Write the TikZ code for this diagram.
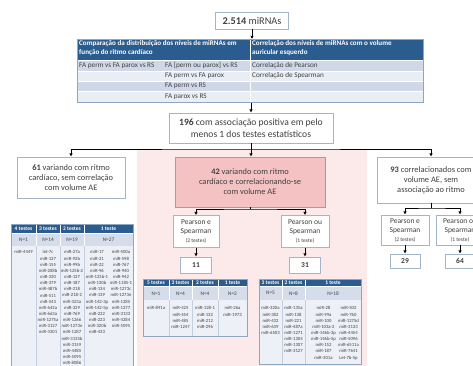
\documentclass[tikz,border=0pt]{standalone}
\usepackage{fontspec}
\setmainfont{Carlito}
\usetikzlibrary{positioning, calc, arrows.meta, shadows}

\begin{document}
\begin{tikzpicture}[
  x=1pt, y=-1pt,
  font=\fontsize{8.4}{10}\selectfont,
  >={Latex[length=3.2pt,width=3.4pt]},
  box/.style={draw=cBoxLine, fill=white, line width=0.7pt, text=cText,
    align=center, inner sep=1pt,
    drop shadow={opacity=0.18, shadow xshift=0.7pt, shadow yshift=-0.7pt}},
  pinkbox/.style={box, draw=cPinkLine, fill=cPinkBox},
  link/.style={black, line width=0.8pt},
  headtxt/.style={text=white, font=\fontsize{7.1}{9}\selectfont\bfseries,
    align=left, anchor=north west, inner sep=0pt},
  rowtxt/.style={text=cText, font=\fontsize{7.2}{9}\selectfont, anchor=west, inner sep=0pt},
  thead/.style={text=white, font=\fontsize{5.5}{6}\selectfont\bfseries, inner sep=0pt},
  tnum/.style={text=cText, font=\fontsize{5.3}{6}\selectfont, inner sep=0pt},
  tlist/.style={text=cText, font=\fontsize{4.7}{6.15}\selectfont, align=center,
    anchor=north, inner sep=0pt},
]
\definecolor{cHead}{HTML}{2B5C8F}     % dark blue table header
\definecolor{cRowA}{HTML}{D0D8E8}     % darker table row
\definecolor{cRowB}{HTML}{E9EDF4}     % lighter table row
\definecolor{cNrow}{HTML}{D5DDEA}     % N= row of the small tables
\definecolor{cBody}{HTML}{EDF1F7}     % list body of the small tables
\definecolor{cFrame}{HTML}{8FA6C3}
\definecolor{cDiv}{HTML}{C3CFE0}
\definecolor{cBoxLine}{HTML}{A3B5CB}
\definecolor{cText}{HTML}{404040}
\definecolor{cPinkBg}{HTML}{FCE9E9}
\definecolor{cPinkBox}{HTML}{F4C2C2}
\definecolor{cPinkLine}{HTML}{D48A87}

\useasboundingbox (0,0) rectangle (473,365);
\clip (0,0) rectangle (473,365);

% pink band behind the middle branch
\fill[cPinkBg] (137,150) rectangle (367,366);

% =====================================================================
% top box and test table
% =====================================================================
\node[box, minimum width=73, minimum height=17, font=\fontsize{10.3}{12}\selectfont]
  (nTotal) at (252,20.5) {\textbf{2.514} miRNAs};

\fill[cHead] (77,39) rectangle (423,60);
\foreach \ya/\yb/\col in {60/71/cRowA, 71/81/cRowB, 81/91/cRowA, 91/102/cRowB}{
  \fill[\col] (77,\ya) rectangle (423,\yb);
  \draw[white, line width=0.5pt] (77,\ya) -- (423,\ya);
}
\draw[white, line width=0.8pt] (250,39) -- (250,102);
\node[draw=cFrame, line width=0.6pt, minimum width=346, minimum height=63,
  inner sep=0pt, anchor=north west] (tab) at (77,39) {};

\node[headtxt] (hCmp) at (79,40.5)
  {Comparação da distribuição dos níveis de miRNAs em\\função do ritmo cardíaco};
\node[headtxt] (hCor) at (252,40.5)
  {Correlação dos níveis de miRNAs com o volume\\auricular esquerdo};

\node[rowtxt] (r1a) at (79,65.5)  {FA perm vs FA parox vs RS};
\node[rowtxt] (r1b) at (165,65.5) {FA [perm ou parox] vs RS};
\node[rowtxt] (r1c) at (252,65.5) {Correlação de Pearson};
\node[rowtxt] (r2b) at (165,76)   {FA perm vs FA parox};
\node[rowtxt] (r2c) at (252,76)   {Correlação de Spearman};
\node[rowtxt] (r3b) at (165,86)   {FA perm vs RS};
\node[rowtxt] (r4b) at (165,96.5) {FA parox vs RS};

\draw[link,->] (nTotal.south) -- (nTotal.south |- tab.north);

% =====================================================================
% 196 and the three groups
% =====================================================================
\node[box, minimum width=164, minimum height=30, font=\fontsize{9.6}{11.5}\selectfont]
  (n196) at (251,128) {\textbf{196} com associação positiva em pelo\\menos 1 dos testes estatísticos};
\draw[link,->] (n196.north |- tab.south) -- (n196.north);

\node[box, minimum width=108, minimum height=41]
  (n61) at (71,177.5) {\textbf{61} variando com ritmo\\cardíaco, sem correlação\\com volume AE};
\node[pinkbox, minimum width=150, minimum height=50]
  (n42) at (250,182) {\textbf{42} variando com ritmo\\cardíaco e correlacionando-se\\com volume AE};
\node[box, minimum width=108, minimum height=46]
  (n93) at (431,180) {\textbf{93} correlacionados com\\volume AE, sem\\associação ao ritmo};

\coordinate (bus) at (251,149);
\draw[link] (n196.south) -- (bus);
\draw[link,<->] (n61.north) |- (bus) -| (n93.north);
\draw[link,->] (bus) -- (bus |- n42.north);

% =====================================================================
% Pearson / Spearman splits
% =====================================================================
\newcommand{\pstwo}{Pearson e\\Spearman\\{\fontsize{5.5}{8}\selectfont(2 testes)}}
\newcommand{\psone}{Pearson ou\\Spearman\\{\fontsize{5.5}{8}\selectfont(1 teste)}}

\begin{scope}[every node/.append style={font=\fontsize{7.5}{9}\selectfont}]
  \node[box, minimum width=46, minimum height=32] (psTwoM) at (196,231.5) {\pstwo};
  \node[box, minimum width=48, minimum height=32] (psOneM) at (305,231.5) {\psone};
  \node[box, minimum width=31, minimum height=16] (n11) at (196,265) {\textbf{11}};
  \node[box, minimum width=31, minimum height=16] (n31) at (305,265) {\textbf{31}};

  \node[box, minimum width=48, minimum height=30] (psTwoR) at (405,230) {\pstwo};
  \node[box, minimum width=48, minimum height=30] (psOneR) at (460,230) {\psone};
  \node[box, minimum width=30, minimum height=14] (n29) at (405,261) {\textbf{29}};
  \node[box, minimum width=30, minimum height=14] (n64) at (460,261) {\textbf{64}};
\end{scope}

\coordinate (br42) at (250,209);
\draw[link] (n42.south) -- (br42);
\draw[link,<->] (psTwoM.north) |- (br42) -| (psOneM.north);
\draw[link,->] (psTwoM) -- (n11);
\draw[link,->] (psOneM) -- (n31);

\coordinate (br93) at (431,208);
\draw[link] (n93.south) -- (br93);
\draw[link,<->] (psTwoR.north) |- (br93) -| (psOneR.north);
\draw[link,->] (psTwoR) -- (n29);
\draw[link,->] (psOneR) -- (n64);

% =====================================================================
% list tables
% =====================================================================
% -- 61: variando com ritmo
\fill[cHead] (11,224) rectangle (133,233);
\fill[cNrow] (11,233) rectangle (133,246);
\fill[cBody] (11,246) rectangle (133,367);
\foreach \xd in {36,60,84}{
  \draw[white, line width=0.6pt] (\xd,224) -- (\xd,246);
  \draw[cDiv, line width=0.4pt] (\xd,246) -- (\xd,367);
}
\draw[white, line width=0.6pt] (11,233) -- (133,233);
\draw[cFrame, line width=0.6pt] (11,367) -- (11,224) -- (133,224) -- (133,367);
\foreach \xc/\t/\n [count=\i] in {23.5/4 testes/N=1, 48/3 testes/N=14,
                                  72/2 testes/N=19, 108.5/1 teste/N=27}{
  \node[thead] (tAh\i) at (\xc,228.5) {\t};
  \node[tnum]  (tAn\i) at (\xc,239.5) {\n};
}
\node[tlist] (tAc1) at (23.5,250.5) {miR-4449};
\node[tlist] (tAc2) at (48,250.5) {let-7c\\miR-127\\miR-155\\miR-208b\\miR-330\\miR-379\\miR-487b\\miR-511\\miR-543\\miR-642a\\miR-663a\\miR-1275a\\miR-3127\\miR-4301};
\node[tlist] (tAc3) at (72,250.5) {miR-27a\\miR-92b\\miR-99b\\miR-125b-2\\miR-127\\miR-187\\miR-218\\miR-218-2\\miR-323a\\miR-329\\miR-769\\miR-1266\\miR-1273e\\miR-1287\\miR-3135b\\miR-3159\\miR-4485\\miR-5095\\miR-8086};
\node[tlist] (tAc4) at (97,250.5) {miR-17\\miR-21\\miR-22\\miR-96\\miR-125b-1\\miR-130b\\miR-134\\miR-139\\miR-142-3p\\miR-142-5p\\miR-222\\miR-223\\miR-320b\\miR-433};
\node[tlist] (tAc5) at (121,250.5) {miR-500a\\miR-598\\miR-767\\miR-940\\miR-942\\miR-1185-1\\miR-1273c\\miR-1273e\\miR-1285\\miR-1277\\miR-3133\\miR-4284\\miR-5095};

% -- 42 / 2 testes -> 11
\fill[cHead] (143,279) rectangle (247,286.5);
\fill[cNrow] (143,286.5) rectangle (247,300);
\fill[cBody] (143,300) rectangle (247,336);
\foreach \xd in {169,192,218}{
  \draw[white, line width=0.6pt] (\xd,279) -- (\xd,300);
  \draw[cDiv, line width=0.4pt] (\xd,300) -- (\xd,336);
}
\draw[white, line width=0.6pt] (143,286.5) -- (247,286.5);
\draw[cFrame, line width=0.6pt] (143,279) rectangle (247,336);
\foreach \xc/\t/\n [count=\i] in {156/5 testes/N=1, 180.5/3 testes/N=4,
                                  205/2 testes/N=4, 232.5/1 teste/N=2}{
  \node[thead] (tBh\i) at (\xc,282.8) {\t};
  \node[tnum]  (tBn\i) at (\xc,293.3) {\n};
}
\node[tlist] (tBc1) at (156,306.5) {miR-891a};
\node[tlist] (tBc2) at (180.5,306.5) {miR-425\\miR-454\\miR-485\\miR-1247};
\node[tlist] (tBc3) at (205,306.5) {miR-128-1\\miR-132\\miR-212\\miR-296};
\node[tlist] (tBc4) at (232.5,306.5) {miR-26a\\miR-1973};

% -- 42 / 1 teste -> 31
\fill[cHead] (259,279) rectangle (361,286.5);
\fill[cNrow] (259,286.5) rectangle (361,300);
\fill[cBody] (259,300) rectangle (361,364);
\foreach \xd in {282,305}{
  \draw[white, line width=0.6pt] (\xd,279) -- (\xd,300);
  \draw[cDiv, line width=0.4pt] (\xd,300) -- (\xd,364);
}
\draw[white, line width=0.6pt] (259,286.5) -- (361,286.5);
\draw[cFrame, line width=0.6pt] (259,279) rectangle (361,364);
\foreach \xc/\t/\n [count=\i] in {270.5/3 testes/N=5, 293.5/2 testes/N=8,
                                  333/1 teste/N=18}{
  \node[thead] (tCh\i) at (\xc,282.8) {\t};
  \node[tnum]  (tCn\i) at (\xc,293.3) {\n};
}
\node[tlist] (tCc1) at (270.5,306.5) {miR-320a\\miR-382\\miR-432\\miR-639\\miR-6503};
\node[tlist] (tCc2) at (293.5,306.5) {miR-135a\\miR-138\\miR-221\\miR-487a\\miR-1271\\miR-1304\\miR-1307\\miR-3127};
\node[tlist] (tCc3) at (323.5,306.5) {miR-28\\miR-99a\\miR-100\\miR-103a-2\\miR-146b-3p\\miR-146b-5p\\miR-152\\miR-187\\miR-301a};
\node[tlist] (tCc4) at (348.5,306.5) {miR-502\\miR-760\\miR-1275d\\miR-3133\\miR-4454\\miR-5096\\miR-6511a\\miR-7641\\Let-7b-5p};

\end{tikzpicture}
\end{document}
